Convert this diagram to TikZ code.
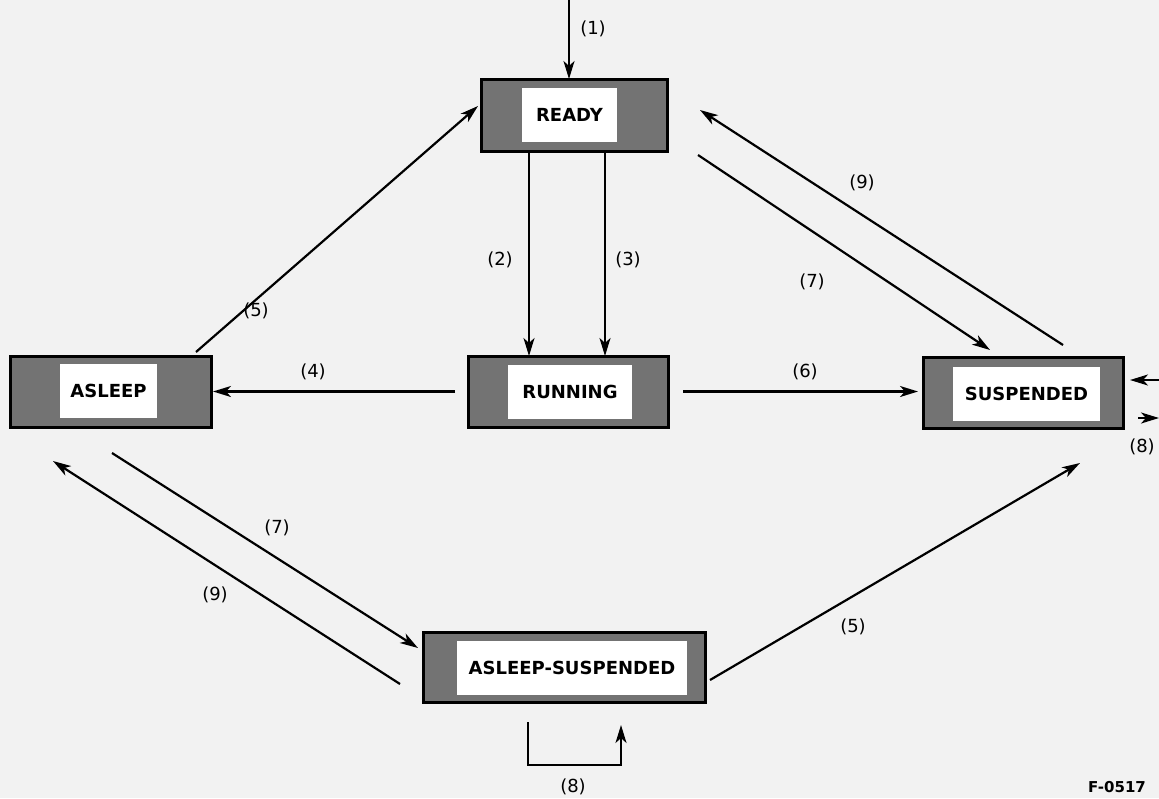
\documentclass[tikz,border=0pt]{standalone}
\usepackage{fontspec}
\setmainfont{DejaVu Sans}
\usetikzlibrary{arrows.meta,calc}

\begin{document}
\begin{tikzpicture}[x=1pt,y=-1pt,
    state/.style={draw,line width=3pt,fill=black!55,outer sep=0pt,inner sep=0pt,minimum height=71pt},
    statename/.style={fill=white,inner sep=0pt,minimum height=54pt,font=\fontsize{18}{20}\selectfont\bfseries},
    tr/.style={line width=2.2pt,-{Stealth[length=18pt,width=11pt,inset=5pt]}},
    num/.style={font=\fontsize{18}{20}\selectfont}]
        %% Page
        \fill[black!5] (0,0) rectangle (1159,798);
        \useasboundingbox (0,0) rectangle (1159,798);
        %% States
        \node[state,minimum width=186pt,minimum height=72pt] (ready) at (574,115) {};
        \node[statename,minimum width=95pt] (readyname) at (569.5,115) {READY};
        \node[state,minimum width=201pt] (asleep) at (110.5,391.5) {};
        \node[statename,minimum width=97pt] (asleepname) at (108.5,390.5) {ASLEEP};
        \node[state,minimum width=200pt] (running) at (568,391.5) {};
        \node[statename,minimum width=124pt] (runningname) at (570,391.5) {RUNNING};
        \node[state,minimum width=200pt] (suspended) at (1023,392.5) {};
        \node[statename,minimum width=147pt] (suspendedname) at (1026.5,393.5) {SUSPENDED};
        \node[state,minimum width=282pt,minimum height=70pt] (asusp) at (564,667) {};
        \node[statename,minimum width=230pt] (aspname) at (572,667.5) {ASLEEP-SUSPENDED};
        %% Transitions
        \coordinate (start) at (569,0);
        \coordinate (in8) at (1159,380);
        \coordinate (out8) at (1159,418);
        \draw[tr] (start) -- (start |- ready.north);
        \draw[tr] ($(ready.south)+(-45,0)$) -- ($(running.north)+(-39,0)$);
        \draw[tr] ($(ready.south)+(31,0)$) -- ($(running.north)+(37,0)$);
        \draw[tr] ($(running.west)+(-13,0)$) -- ($(asleep.east)+(2,0)$);
        \draw[tr] ($(running.east)+(15,0)$) -- ($(suspended.west)+(-5,-1)$);
        \draw[tr] ($(asleep.north east)+(-15,-4)$) -- ($(ready.west)+(-3,-9)$);
        \draw[tr] ($(suspended.north)+(40,-12)$) -- ($(ready.east)+(33,-5)$);
        \draw[tr] ($(ready.south east)+(31,4)$) -- ($(suspended.north)+(-33,-7)$);
        \draw[tr] ($(asleep.south)+(1.5,26)$) -- ($(asusp.west)+(-5,-19)$);
        \draw[tr] ($(asusp.west)+(-23,17)$) -- ($(asleep.south)+(-57.5,34)$);
        \draw[tr] ($(asusp.north east)+(5,48)$) -- ($(suspended.south)+(57,35)$);
        \draw[tr,shorten >=7pt] (in8) -- (in8 -| suspended.east);
        \draw[tr] ($(suspended.east)+(15,25.5)$) -- (out8);
        \draw[tr] ($(asusp.south)+(-36,20)$) -- ++(0,43) -- ++(93,0) -- ++(0,-40);
        %% Labels
        \node[num] (l1) at (593,29) {(1)};
        \node[num] (l2) at (500,260) {(2)};
        \node[num] (l3) at (628,260) {(3)};
        \node[num] (l4) at (313,372) {(4)};
        \node[num] (l6) at (805,372) {(6)};
        \node[num] (l5a) at (256,311) {(5)};
        \node[num] (l9a) at (862,183) {(9)};
        \node[num] (l7a) at (812,282) {(7)};
        \node[num] (l7b) at (277,528) {(7)};
        \node[num] (l9b) at (215,595) {(9)};
        \node[num] (l5b) at (853,627) {(5)};
        \node[num] (l8a) at (1142,447) {(8)};
        \node[num] (l8b) at (573,787) {(8)};
        \node[font=\fontsize{15}{17}\selectfont\bfseries] (fig) at (1117,787) {F-0517};
\end{tikzpicture}
\end{document}
